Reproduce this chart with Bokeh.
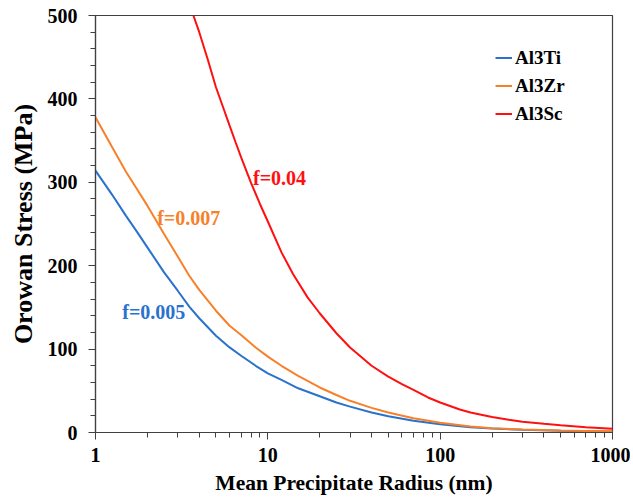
from bokeh.plotting import figure
from bokeh.models import (FixedTicker, SingleIntervalTicker, PrintfTickFormatter,
                          Legend, LegendItem, Range1d)
from bokeh.core.properties import value
from bokeh.embed import file_html
from bokeh.resources import INLINE

# ---- data ----
radius_ti = [1, 1.25, 1.5, 1.75, 2, 2.5, 3, 3.5, 4, 5, 6, 7, 8.5, 10, 12, 15, 20, 25, 30,
             40, 50, 70, 100, 150, 200, 300, 500, 700, 1000]
stress_ti = [314, 285, 260, 240, 222, 192, 170, 151, 137, 116, 102, 92, 80, 71, 63, 53, 43.5,
             36, 31, 24, 19.5, 14, 9.8, 6.3, 4.7, 3.2, 2.0, 1.6, 1.2]

radius_zr = [1, 1.25, 1.5, 1.75, 2, 2.5, 3, 3.5, 4, 5, 6, 7, 8.5, 10, 12, 15, 20, 25, 30,
             40, 50, 70, 100, 150, 200, 300, 500, 700, 1000]
stress_zr = [378, 342, 313, 291, 272, 238, 211, 188, 171, 146, 128, 117, 102, 91, 80, 68, 54,
             45, 38, 29.5, 24, 17, 11.8, 7.3, 5.2, 3.5, 2.3, 1.9, 1.5]

radius_sc = [3.7, 4, 4.5, 5, 5.5, 6, 6.5, 7, 8, 9, 10, 12, 14, 17, 20, 25, 30, 40, 50, 60,
             70, 85, 100, 130, 150, 200, 250, 300, 400, 500, 700, 1000]
stress_sc = [500, 480, 446, 414, 390, 368, 348, 330, 299, 274, 253, 216, 190, 162, 143, 119,
             102, 80, 67, 58, 51, 42, 36, 27.5, 24, 18.5, 15.3, 13, 10.4, 8.6, 6.4, 4.5]

series_names = ["Al3Ti", "Al3Zr", "Al3Sc"]
fraction_labels = ["f=0.005", "f=0.007", "f=0.04"]

x_major_ticks = [1, 10, 100, 1000]
x_minor_ticks = [m * d for d in (1, 10, 100) for m in range(2, 10)]

# ---- styles / positions ----
colors = ["#2a72cc", "#f7812b", "#ff1010"]
FONT = "Liberation Serif"
label_x = [1.43, 2.28, 8.2]
label_y = [145, 257, 305]

W, H = 630, 500
p = figure(width=W, height=H, x_axis_type="log",
           x_range=Range1d(1, 1000), y_range=Range1d(0, 500),
           output_backend="svg", toolbar_location=None,
           min_border_left=95, min_border_right=W - 612,
           min_border_top=15, min_border_bottom=H - 432)

p.xgrid.visible = False
p.ygrid.visible = False
p.outline_line_color = "#404040"
p.outline_line_width = 1.2

r1 = p.line(radius_ti, stress_ti, line_color=colors[0], line_width=2)
r2 = p.line(radius_zr, stress_zr, line_color=colors[1], line_width=2)
r3 = p.line(radius_sc, stress_sc, line_color=colors[2], line_width=2)

for i in range(3):
    p.text(x=[label_x[i]], y=[label_y[i]], text=[fraction_labels[i]],
           text_color=colors[i], text_font=value(FONT), text_font_style="bold",
           text_font_size="20px", text_baseline="middle", text_align="left")

# x axis
xa = p.xaxis[0]
xa.ticker = FixedTicker(ticks=x_major_ticks, minor_ticks=x_minor_ticks)
xa.formatter = PrintfTickFormatter(format="%d")
xa.axis_label = "Mean Precipitate Radius (nm)"
xa.major_tick_out = 7
xa.major_tick_in = 0
xa.minor_tick_out = 5
xa.minor_tick_in = 0
xa.major_label_standoff = 8

# y axis
ya = p.yaxis[0]
ya.ticker = SingleIntervalTicker(interval=100, num_minor_ticks=5)
ya.axis_label = "Orowan Stress (MPa)"
ya.major_tick_out = 7
ya.major_tick_in = 0
ya.minor_tick_out = 5
ya.minor_tick_in = 0
ya.major_label_standoff = 11

for ax in (xa, ya):
    ax.axis_line_color = "#404040"
    ax.axis_line_width = 1.2
    ax.major_tick_line_color = "#404040"
    ax.minor_tick_line_color = "#404040"
    ax.major_label_text_font = FONT
    ax.major_label_text_font_style = "bold"
    ax.major_label_text_font_size = "20px"
    ax.major_label_text_color = "black"
    ax.axis_label_text_font = FONT
    ax.axis_label_text_font_style = "bold"
    ax.axis_label_text_color = "black"

xa.axis_label_text_font_size = "21.5px"
xa.axis_label_standoff = 6
ya.axis_label_text_font_size = "26px"
ya.axis_label_standoff = 7

legend = Legend(items=[LegendItem(label=series_names[0], renderers=[r1]),
                       LegendItem(label=series_names[1], renderers=[r2]),
                       LegendItem(label=series_names[2], renderers=[r3])],
                location=(400, 306), padding=0, margin=0, spacing=3,
                glyph_width=17, glyph_height=25, label_height=25,
                label_standoff=3,
                label_text_font=FONT, label_text_font_style="bold",
                label_text_font_size="19px", label_text_color="black",
                border_line_color=None, background_fill_alpha=0)
p.add_layout(legend)

open("out.html", "w").write(file_html(p, INLINE))
